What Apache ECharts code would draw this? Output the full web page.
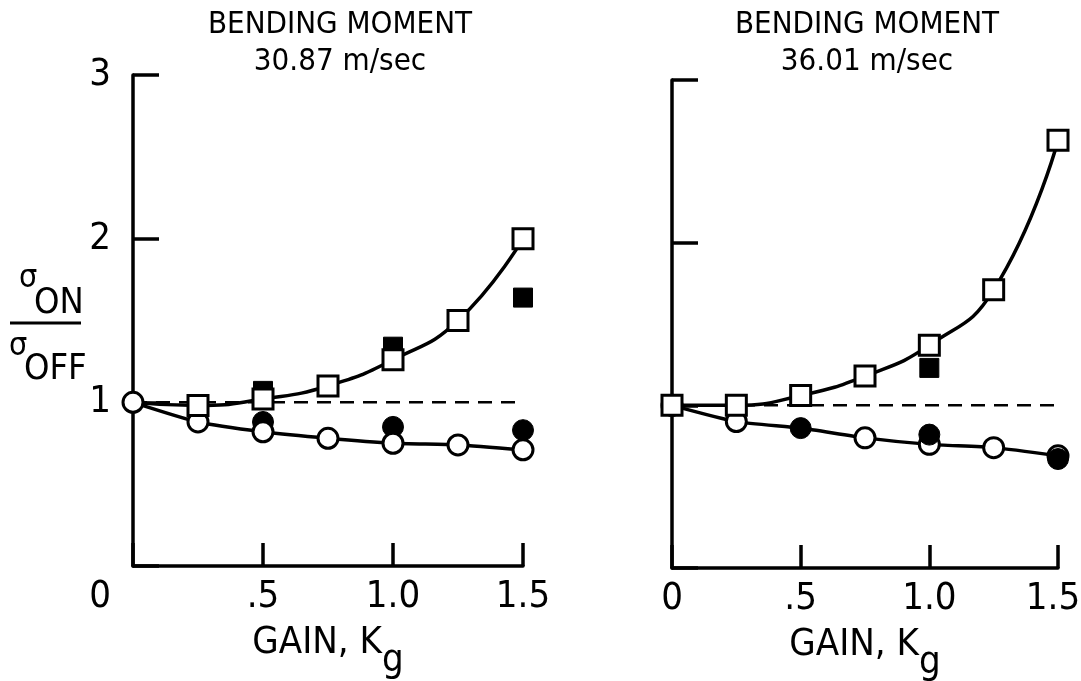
<!DOCTYPE html>
<html>
<head>
<meta charset="utf-8">
<script src="https://cdn.jsdelivr.net/npm/echarts@6/dist/echarts.min.js"></script>
<style>
  html, body { margin: 0; padding: 0; background: #fff; }
  #chart { width: 1081px; height: 681px; }
</style>
</head>
<body>
<div id="chart"></div>
<script>
// gain values where points were measured
const gainPts = [0, 0.25, 0.5, 0.75, 1.0, 1.25, 1.5];
const filledGain = [0.5, 1.0, 1.5];

// 30.87 m/sec
const sqOpenA = [1.0, 0.98, 1.02, 1.10, 1.26, 1.50, 2.0];
const sqFillA = [1.07, 1.34, 1.64];
const ciOpenA = [1.0, 0.88, 0.82, 0.78, 0.75, 0.74, 0.71];
const ciFillA = [0.88, 0.85, 0.83];

// 36.01 m/sec
const sqOpenB = [1.0, 1.0, 1.06, 1.18, 1.37, 1.71, 2.63];
const sqFillGainB = [1.0];
const sqFillB = [1.23];
const ciOpenB = [1.0, 0.90, 0.86, 0.80, 0.76, 0.74, 0.69];
const ciFillB = [0.86, 0.82, 0.67];

const titles = ['30.87 m/sec', '36.01 m/sec'];
const yTicks = [1, 2, 3];

const FONT = "'Liberation Sans Narrow', 'DejaVu Sans Condensed', sans-serif";

const pairs = (xs, ys) => xs.map((x, i) => [x, ys[i]]);

const fmtX = (v) => (v === 0 ? '0' : v === 0.5 ? '.5' : v.toFixed(1));

function makeXAxis(idx) {
  return {
    gridIndex: idx, type: 'value', min: 0, max: 1.5, interval: 0.5,
    axisLine: { lineStyle: { color: '#000', width: 3.5 } },
    axisTick: { inside: true, length: 23, lineStyle: { color: '#000', width: 3.5 } },
    splitLine: { show: false },
    axisLabel: {
      margin: 12, color: '#000', fontFamily: FONT, fontSize: 38,
      formatter: (v) => {
        if (idx === 0 && v === 0) return '{z|0}';
        if (idx === 1 && v === 1.5) return '{e|1.5}';
        return fmtX(v);
      },
      rich: {
        z: { fontFamily: FONT, fontSize: 38, color: '#000', padding: [0, 66, 0, 0] },
        e: { fontFamily: FONT, fontSize: 38, color: '#000', padding: [0, 10, 0, 0] }
      }
    },
    name: '{a|GAIN, K}{b|g}', nameLocation: 'middle', nameGap: 40,
    nameTextStyle: {
      rich: {
        a: { fontFamily: FONT, fontSize: 38, color: '#000' },
        b: { fontFamily: FONT, fontSize: 38, color: '#000', padding: [36, 0, 0, 0] }
      }
    }
  };
}

function makeYAxis(idx) {
  return {
    gridIndex: idx, type: 'value', min: 0, max: 3, interval: 1,
    axisLine: { lineStyle: { color: '#000', width: 3.5 } },
    axisTick: { inside: true, length: 26, lineStyle: { color: '#000', width: 3.5 } },
    splitLine: { show: false },
    axisLabel: {
      show: idx === 0, margin: 22, color: '#000', fontFamily: FONT, fontSize: 38,
      formatter: (v) => (yTicks.indexOf(v) >= 0 ? String(v) : '')
    }
  };
}

function panelSeries(idx, sqOpen, sqFillX, sqFill, ciOpen, ciFill, sqOpenFrom) {
  const base = { xAxisIndex: idx, yAxisIndex: idx };
  // left panel: open circles over filled; right panel: filled over open
  const fillZ = idx === 0 ? 3 : 5;
  return [
    Object.assign({}, base, {
      type: 'line', data: [[0, 1], [1.5, 1]], symbol: 'none', z: 1,
      lineStyle: { color: '#000', width: 2.5, type: [14, 9] }
    }),
    Object.assign({}, base, {
      type: 'line', data: pairs(gainPts, sqOpen), smooth: 0.5, symbol: 'none', z: 2,
      lineStyle: { color: '#000', width: 3.5 }
    }),
    Object.assign({}, base, {
      type: 'line', data: pairs(gainPts, ciOpen), smooth: 0.2, symbol: 'none', z: 2,
      lineStyle: { color: '#000', width: 3.5 }
    }),
    Object.assign({}, base, {
      type: 'scatter', data: pairs(filledGain, ciFill), symbol: 'circle', symbolSize: 21, z: fillZ,
      itemStyle: { color: '#000', borderColor: '#000', borderWidth: 1, opacity: 1 }
    }),
    Object.assign({}, base, {
      type: 'scatter', data: pairs(sqFillX, sqFill), symbol: 'rect', symbolSize: 19, z: fillZ,
      itemStyle: { color: '#000', borderColor: '#000', borderWidth: 1, opacity: 1 }
    }),
    Object.assign({}, base, {
      type: 'scatter', data: pairs(gainPts, ciOpen).filter((p) => p[0] !== 0.5 || idx === 0),
      symbol: 'circle', symbolSize: 20, z: 4,
      itemStyle: { color: '#fff', borderColor: '#000', borderWidth: 3, opacity: 1 }
    }),
    Object.assign({}, base, {
      type: 'scatter', data: pairs(gainPts, sqOpen).slice(sqOpenFrom),
      symbol: 'rect', symbolSize: 20, z: 4,
      itemStyle: { color: '#fff', borderColor: '#000', borderWidth: 3, opacity: 1 }
    })
  ];
}

const chart = echarts.init(document.getElementById('chart'), null, { renderer: 'canvas' });

chart.setOption({
  backgroundColor: '#fff',
  animation: false,
  title: [0, 1].map((i) => ({
    text: 'BENDING MOMENT',
    subtext: titles[i],
    left: i === 0 ? 335 : 862,
    top: 4,
    textAlign: 'center',
    itemGap: 6,
    textStyle: { fontFamily: FONT, fontSize: 31, fontWeight: 'normal', color: '#000' },
    subtextStyle: { fontFamily: FONT, fontSize: 31, color: '#000' }
  })),
  grid: [
    { left: 133, right: 558, top: 75, bottom: 115, outerBoundsMode: 'none' },
    { left: 672, right: 23, top: 80, bottom: 113, outerBoundsMode: 'none' }
  ],
  xAxis: [makeXAxis(0), makeXAxis(1)],
  yAxis: [makeYAxis(0), makeYAxis(1)],
  series: [].concat(
    panelSeries(0, sqOpenA, filledGain, sqFillA, ciOpenA, ciFillA, 1),
    panelSeries(1, sqOpenB, sqFillGainB, sqFillB, ciOpenB, ciFillB, 0)
  ),
  graphic: [
    { type: 'text', left: 19, top: 263, style: { text: 'σ', font: '32px ' + FONT, fill: '#000' } },
    { type: 'text', left: 34, top: 286, style: { text: 'ON', font: '36px ' + FONT, fill: '#000' } },
    { type: 'line', shape: { x1: 10, y1: 323, x2: 81, y2: 323 }, style: { stroke: '#000', lineWidth: 3 } },
    { type: 'text', left: 9, top: 331, style: { text: 'σ', font: '32px ' + FONT, fill: '#000' } },
    { type: 'text', left: 24, top: 352, style: { text: 'OFF', font: '36px ' + FONT, fill: '#000' } }
  ]
});
</script>
</body>
</html>
